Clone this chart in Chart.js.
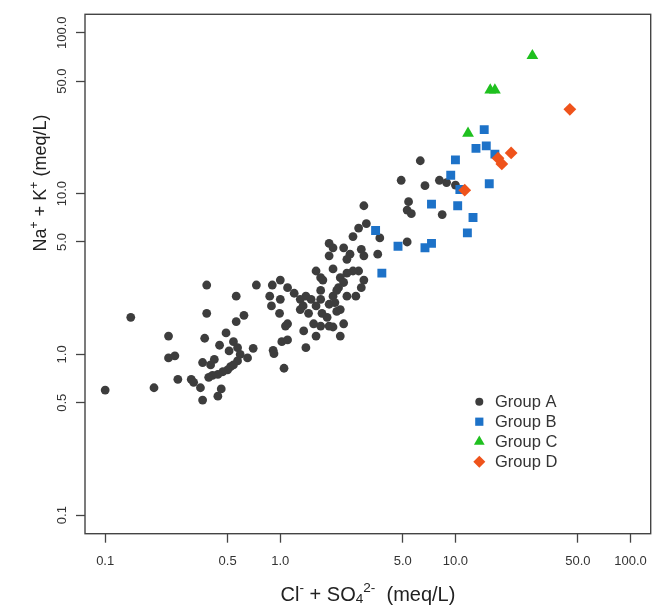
<!DOCTYPE html>
<html>
<head>
<meta charset="utf-8">
<script src="https://cdn.jsdelivr.net/npm/chart.js@4.4.1/dist/chart.umd.min.js"></script>
<style>
  html, body { margin: 0; padding: 0; background: #fff; }
</style>
</head>
<body>
<canvas id="ionChart" width="652" height="607"></canvas>
<script>
// Cl- + SO4 2- (x) against Na+ + K+ (y), both in meq/L
const groupNames = ["Group A", "Group B", "Group C", "Group D"];
const groupColors = ["#3d3d3d", "#1d72c8", "#1fc01f", "#ef531b"];
const groupShapes = ["circle", "rect", "triangle", "rectRot"];
const groupRadius = [4.4, 6.3, 6.8, 6.4];

const groupAx = [6.3, 4.9, 6.7, 8.1, 8.9, 10.0, 3.0, 5.4, 5.3, 5.6, 8.4, 3.1, 3.7, 5.3,
  2.8, 2.6, 1.9, 2.0, 2.3, 2.9, 3.0, 1.9, 2.5, 3.6, 2.4, 2.0, 1.6, 2.8, 2.6, 2.4, 2.2, 1.7, 1.75, 3.0, 2.3,
  0.38, 0.73, 0.9, 1.0, 1.1, 1.7, 2.15, 2.9, 0.56, 0.87, 1.0, 1.2, 1.4, 1.3, 1.5, 1.7, 2.0, 2.1, 2.4, 2.7,
  0.89, 1.35, 1.6, 1.9, 2.05, 2.2, 1.3, 0.38, 0.99, 0.62, 0.56, 1.45, 1.73, 1.85, 2.1, 1.1, 1.07, 1.55, 1.7, 1.9, 2.0, 2.3,
  0.49, 1.36, 1.6, 2.2, 1.02, 1.1, 0.37, 0.45, 0.54, 1.4, 0.7,
  0.14, 0.23, 0.51, 0.57, 0.59, 0.65, 0.91, 0.92, 0.23, 0.25, 0.42, 0.36, 0.40, 0.57, 0.52, 0.54, 0.50, 0.47,
  0.44, 0.41, 0.39, 0.26, 0.31, 0.32, 0.35, 0.19, 0.10, 0.46, 0.44, 0.36, 1.05];
const groupAy = [16.0, 12.1, 11.2, 12.1, 11.7, 11.3, 8.4, 8.9, 7.9, 7.5, 7.4, 6.5, 5.3, 5.0,
  6.1, 5.4, 4.9, 4.6, 4.6, 4.5, 4.1, 4.1, 4.2, 4.2, 3.9, 3.4, 3.3, 3.3, 3.3, 3.2, 3.0, 3.0, 2.9, 2.9, 2.8,
  2.7, 2.7, 2.7, 2.9, 2.6, 2.5, 2.6, 2.6, 2.3, 2.3, 2.2, 2.4, 2.3, 2.2, 2.2, 2.2, 2.3, 2.5, 2.3, 2.3,
  2.0, 2.0, 2.0, 2.05, 2.1, 1.9, 1.9, 1.8, 1.8, 1.75, 1.6, 1.8, 1.8, 1.7, 1.85, 1.55, 1.5, 1.55, 1.5, 1.5, 1.48, 1.55,
  1.36, 1.4, 1.3, 1.3, 1.2, 1.23, 1.26, 1.14, 1.2, 1.1, 1.09,
  1.7, 1.3, 1.05, 1.1, 1.0, 0.95, 1.06, 1.01, 0.95, 0.98, 0.93, 0.89, 0.86, 0.91, 0.84, 0.86, 0.80, 0.78,
  0.75, 0.74, 0.72, 0.70, 0.70, 0.67, 0.62, 0.62, 0.60, 0.61, 0.55, 0.52, 0.82];

const groupBx = [14.6, 13.1, 15.0, 16.8, 10.0, 9.4, 15.6, 10.6, 7.3, 10.3, 12.6, 11.7, 3.5, 4.7, 7.3, 6.7, 3.8];
const groupBy = [25, 19.1, 19.8, 17.6, 16.2, 13.0, 11.5, 10.6, 8.6, 8.4, 7.1, 5.7, 5.9, 4.7, 4.9, 4.6, 3.2];

const groupCx = [27.5, 15.8, 16.8, 11.8];
const groupCy = [72, 44, 44, 23.7];

const groupDx = [45, 20.8, 17.5, 18.4, 11.3];
const groupDy = [33.4, 17.9, 16.6, 15.3, 10.5];

const tickValues = [0.1, 0.5, 1, 5, 10, 50, 100];
const axisMin = 0.0767;
const axisMax = 130.3;

const fontFamily = "'Liberation Sans', Arial, sans-serif";

function toPoints(xs, ys) {
  return xs.map((x, i) => ({ x: x, y: ys[i] }));
}

const allX = [groupAx, groupBx, groupCx, groupDx];
const allY = [groupAy, groupBy, groupCy, groupDy];

const datasets = groupNames.map((name, i) => ({
  label: name,
  data: toPoints(allX[i], allY[i]),
  pointStyle: groupShapes[i],
  pointRadius: groupRadius[i],
  pointHoverRadius: groupRadius[i],
  pointBackgroundColor: groupColors[i],
  pointBorderWidth: 0,
  backgroundColor: groupColors[i],
  order: 3 - i // later groups sit on top
}));

function axisOptions(isY) {
  return {
    type: 'logarithmic',
    min: axisMin,
    max: axisMax,
    bounds: 'data',
    afterBuildTicks: s => { s.ticks = tickValues.map(v => ({ value: v })); },
    afterFit: s => {
      // fixed box sizes, and no extra room reserved for the end labels
      if (isY) s.width = 85; else s.height = 73.3;
      s.paddingLeft = s.paddingRight = s.paddingTop = s.paddingBottom = 0;
    },
    grid: { display: true, drawOnChartArea: false, drawTicks: true, tickLength: 9, color: '#444', tickWidth: 1.3 },
    border: { display: false },
    ticks: {
      callback: v => Number(v).toFixed(1),
      font: { family: fontFamily, size: 13 },
      color: '#333',
      autoSkip: false,
      padding: isY ? -2.75 : 19,
      minRotation: isY ? 90 : 0,
      maxRotation: isY ? 90 : 0,
      crossAlign: 'center'
    }
  };
}

// text with super/subscripts, centered on (0,0) of the current transform
function drawRich(ctx, parts, size) {
  const fontOf = p => (p.sup || p.sub ? (size * 0.68) : size) + 'px ' + fontFamily;
  let total = 0;
  parts.forEach(p => { ctx.font = fontOf(p); total += ctx.measureText(p.t).width; });
  let x = -total / 2;
  ctx.textBaseline = 'alphabetic';
  ctx.textAlign = 'left';
  parts.forEach(p => {
    ctx.font = fontOf(p);
    let dy = 0;
    if (p.sup) dy = -size * 0.45;
    if (p.sub) dy = size * 0.08;
    ctx.fillText(p.t, x, size * 0.36 + dy);
    x += ctx.measureText(p.t).width;
  });
}

function drawMarker(ctx, shape, x, y, r) {
  ctx.beginPath();
  if (shape === 'circle') {
    ctx.arc(x, y, r, 0, Math.PI * 2);
  } else if (shape === 'rect') {
    const h = r * Math.SQRT1_2;
    ctx.rect(x - h, y - h, 2 * h, 2 * h);
  } else if (shape === 'triangle') {
    for (let k = 0; k < 3; k++) {
      const a = -Math.PI / 2 + k * 2 * Math.PI / 3;
      const px = x + Math.cos(a) * r, py = y + Math.sin(a) * r;
      if (k === 0) ctx.moveTo(px, py); else ctx.lineTo(px, py);
    }
    ctx.closePath();
  } else {
    ctx.moveTo(x, y - r); ctx.lineTo(x + r, y); ctx.lineTo(x, y + r); ctx.lineTo(x - r, y);
    ctx.closePath();
  }
  ctx.fill();
}

const xTitle = [{ t: 'Cl' }, { t: '-', sup: true }, { t: ' + SO' }, { t: '4', sub: true }, { t: '2-', sup: true }, { t: '  (meq/L)' }];
const yTitle = [{ t: 'Na' }, { t: '+', sup: true }, { t: ' + K' }, { t: '+', sup: true }, { t: ' (meq/L)' }];

const framePlugin = {
  id: 'frameAndLabels',
  afterDraw(chart) {
    const ctx = chart.ctx;
    const a = chart.chartArea;
    ctx.save();
    ctx.strokeStyle = '#444';
    ctx.lineWidth = 1.4;
    ctx.strokeRect(a.left, a.top, a.right - a.left, a.bottom - a.top);

    ctx.fillStyle = '#222';
    ctx.save();
    ctx.translate(368, 594);
    drawRich(ctx, xTitle, 20);
    ctx.restore();

    ctx.save();
    ctx.translate(40, 183);
    ctx.rotate(-Math.PI / 2);
    drawRich(ctx, yTitle, 18);
    ctx.restore();

    // legend
    const lx = 479.3, ly = 401.7, step = 20;
    const legendR = [4, 5.8, 6.2, 6];
    groupNames.forEach((name, i) => {
      ctx.fillStyle = groupColors[i];
      drawMarker(ctx, groupShapes[i], lx, ly + i * step, legendR[i]);
      ctx.fillStyle = '#333';
      ctx.font = '16.5px ' + fontFamily;
      ctx.textAlign = 'left';
      ctx.textBaseline = 'middle';
      ctx.fillText(name, 495, ly + i * step + 1);
    });
    ctx.restore();
  }
};

new Chart(document.getElementById('ionChart').getContext('2d'), {
  type: 'scatter',
  data: { datasets: datasets },
  options: {
    responsive: false,
    animation: false,
    layout: { autoPadding: false, padding: { top: 14.3, right: 1.3, left: 0, bottom: 0 } },
    plugins: { legend: { display: false }, tooltip: { enabled: false } },
    scales: { x: axisOptions(false), y: axisOptions(true) }
  },
  plugins: [framePlugin]
});
</script>
</body>
</html>
